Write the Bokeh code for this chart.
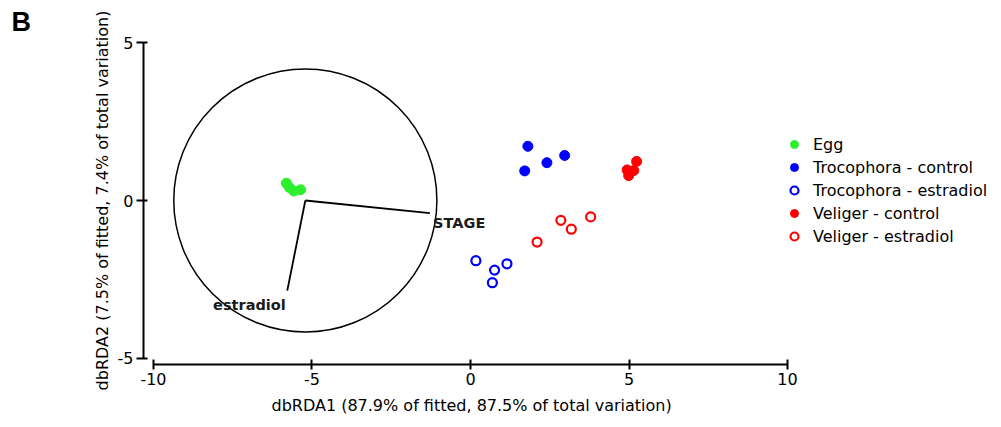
from bokeh.plotting import figure
from bokeh.models import Range1d, FixedTicker, Legend, LegendItem, Title
from bokeh.core.properties import value
from bokeh.embed import file_html
from bokeh.resources import INLINE

# ---------------- data ----------------
panel_letter = "B"
x_title = "dbRDA1 (87.9% of fitted, 87.5% of total variation)"
y_title = "dbRDA2 (7.5% of fitted, 7.4% of total variation)"
x_ticks = [-10, -5, 0, 5, 10]
x_tick_labels = ["-10", "-5", "0", "5", "10"]
y_ticks = [-5, 0, 5]
y_tick_labels = ["-5", "0", "5"]

series_names = ["Egg", "Trocophora - control", "Trocophora - estradiol",
                "Veliger - control", "Veliger - estradiol"]

egg_x = [-5.81, -5.71, -5.57, -5.36]
egg_y = [0.55, 0.41, 0.30, 0.34]
troc_ctrl_x = [1.81, 2.97, 2.41, 1.71]
troc_ctrl_y = [1.72, 1.43, 1.20, 0.94]
troc_est_x = [0.17, 0.76, 1.15, 0.69]
troc_est_y = [-1.91, -2.21, -2.01, -2.61]
vel_ctrl_x = [5.24, 4.94, 5.15, 4.99]
vel_ctrl_y = [1.24, 0.97, 0.95, 0.79]
vel_est_x = [2.10, 2.85, 3.18, 3.79]
vel_est_y = [-1.32, -0.63, -0.91, -0.52]

vector_names = ["STAGE", "estradiol"]
vector_origin_x = [-5.21, -5.21]
vector_origin_y = [0.0, 0.0]
vector_end_x = [-1.28, -5.78]
vector_end_y = [-0.40, -2.86]
vector_label_x = [-1.18, -8.12]
vector_label_y = [-0.71, -3.33]
circle_center_x = [-5.21]
circle_center_y = [0.0]
circle_radius = 4.15

GREEN = "#2cf02c"
BLUE = "#0000ff"
RED = "#ff0000"
FONT = "DejaVu Sans"

# ---------------- figure ----------------
p = figure(width=1001, height=427,
           x_range=Range1d(-10.315, 16.75), y_range=Range1d(-5.206, 5.206),
           output_backend="svg", toolbar_location=None,
           min_border_left=143, min_border_right=0,
           min_border_top=36, min_border_bottom=63)
p.title = Title(text=panel_letter, align="left", offset=-132, standoff=0,
                text_font="Liberation Sans", text_font_style="bold",
                text_font_size="27px", text_color="black")
p.xgrid.visible = False
p.ygrid.visible = False
p.outline_line_color = None
p.background_fill_color = "white"

xa = p.xaxis[0]
xa.ticker = FixedTicker(ticks=x_ticks)
xa.major_label_overrides = dict(zip(x_ticks, x_tick_labels))
xa.bounds = (x_ticks[0], x_ticks[-1])
ya = p.yaxis[0]
ya.ticker = FixedTicker(ticks=y_ticks)
ya.major_label_overrides = dict(zip(y_ticks, y_tick_labels))
ya.bounds = (y_ticks[0], y_ticks[-1])
ya.axis_label = y_title

for ax in (xa, ya):
    ax.axis_line_width = 2
    ax.axis_line_color = "black"
    ax.major_tick_line_width = 2
    ax.major_tick_line_color = "black"
    ax.minor_tick_line_color = None
    ax.major_label_text_font = FONT
    ax.major_label_text_font_size = "16px"
    ax.major_label_text_color = "black"
    ax.axis_label_text_font = FONT
    ax.axis_label_text_font_size = "16px"
    ax.axis_label_text_font_style = "normal"
    ax.axis_label_text_color = "black"
    ax.major_label_standoff = 3

xa.major_tick_in = 5
xa.major_tick_out = 5
ya.major_tick_in = 4
ya.major_tick_out = 7
ya.axis_label_standoff = 3

# x-axis title, centred under the -10..10 axis line
p.add_layout(Title(text=x_title, align="left", offset=128, standoff=12,
                   text_font=FONT, text_font_size="16px", text_font_style="normal",
                   text_color="black"), "below")

# circle and vectors
p.circle(x=circle_center_x, y=circle_center_y, radius=circle_radius,
         fill_color=None, line_color="black", line_width=1.5)
p.segment(x0=vector_origin_x, y0=vector_origin_y, x1=vector_end_x, y1=vector_end_y,
          line_color="black", line_width=1.8)
p.text(x=vector_label_x, y=vector_label_y, text=vector_names,
       text_font=value(FONT), text_font_size="14.5px", text_font_style="bold",
       text_align="left", text_baseline="middle", text_color="#1a1a1a")

# points
r_egg = p.scatter(egg_x, egg_y, marker="circle", size=10, fill_color=GREEN,
                  line_color=GREEN, line_width=1)
r_tc = p.scatter(troc_ctrl_x, troc_ctrl_y, marker="circle", size=10, fill_color=BLUE,
                 line_color=BLUE, line_width=1)
r_te = p.scatter(troc_est_x, troc_est_y, marker="circle", size=9, fill_color="white",
                 line_color=BLUE, line_width=2.2)
r_vc = p.scatter(vel_ctrl_x, vel_ctrl_y, marker="circle", size=10, fill_color=RED,
                 line_color=RED, line_width=1)
r_ve = p.scatter(vel_est_x, vel_est_y, marker="circle", size=9, fill_color="white",
                 line_color=RED, line_width=2.2)

renderers = [r_egg, r_tc, r_te, r_vc, r_ve]
legend = Legend(items=[LegendItem(label=n, renderers=[r]) for n, r in zip(series_names, renderers)],
                location=(641, 118), padding=0, margin=0, spacing=3,
                glyph_height=20, glyph_width=20, label_height=20, label_standoff=9,
                label_text_font=FONT, label_text_font_size="16px",
                label_text_color="black",
                border_line_color=None, background_fill_alpha=0)
p.add_layout(legend)

open("out.html", "w").write(file_html(p, INLINE))
